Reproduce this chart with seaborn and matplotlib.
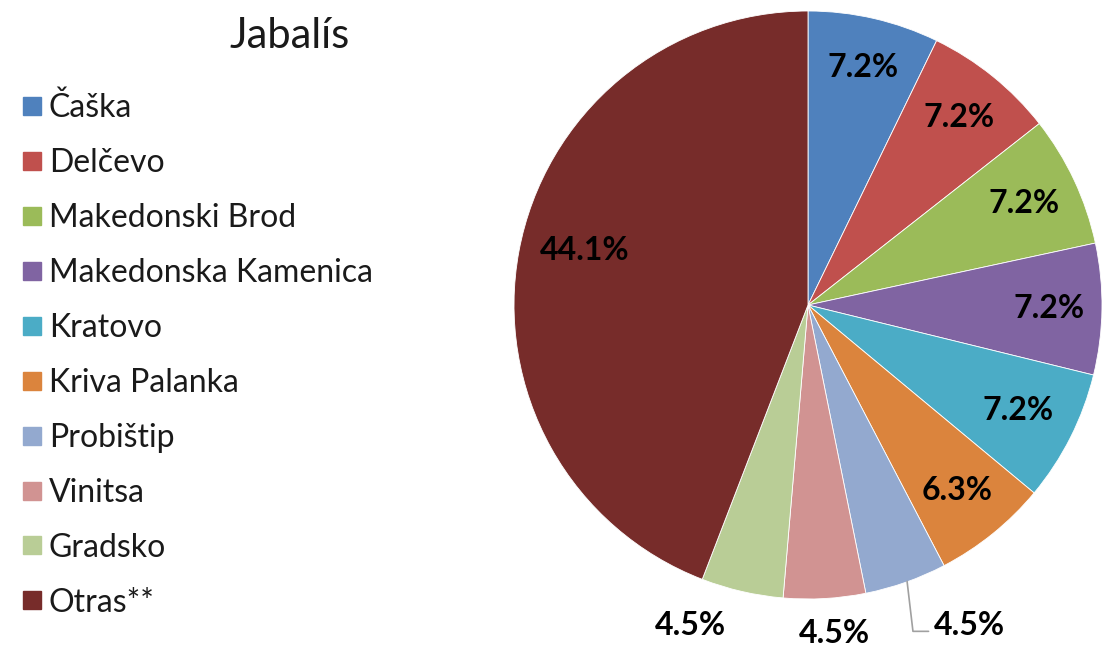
import numpy as np
import matplotlib
matplotlib.use("Agg")
import matplotlib.pyplot as plt
from matplotlib.lines import Line2D
import seaborn as sns

# data
regions = [
    "Čaška",
    "Delčevo",
    "Makedonski Brod",
    "Makedonska Kamenica",
    "Kratovo",
    "Kriva Palanka",
    "Probištip",
    "Vinitsa",
    "Gradsko",
    "Otras**",
]
shares = [7.2, 7.2, 7.2, 7.2, 7.2, 6.3, 4.5, 4.5, 4.5, 44.1]
colors = [
    "#4F81BD", "#C0504D", "#9BBB59", "#8064A2", "#4BACC6",
    "#DB843D", "#93A9CF", "#D19392", "#B9CD96", "#772C2A",
]

sns.set_theme(style="white")
plt.rcParams["font.family"] = ["Lato", "DejaVu Sans"]

W, H = 1120, 650
fig = plt.figure(figsize=(W / 100, H / 100), dpi=100)
fig.patch.set_facecolor("white")

# pie axes: centre (808, 305) px, radius 294 px
cx, cy, r = 808, 305, 294
ax = fig.add_axes([(cx - r) / W, (H - cy - r) / H, 2 * r / W, 2 * r / H])

wedges, _ = ax.pie(
    shares,
    colors=colors,
    startangle=90,
    counterclock=False,
    radius=1.0,
    wedgeprops=dict(linewidth=0.6, edgecolor="white"),
)
ax.set_xlim(-1, 1)
ax.set_ylim(-1, 1)
ax.axis("off")

# label placement: radial distance inside, fixed spots for small slices
inside_dist = [0.83, 0.82, 0.81, 0.82, 0.80, 0.81, None, None, None, None]
fixed_pos = {6: (0.55, -1.09), 7: (0.09, -1.118), 8: (-0.40, -1.09),
             9: (-0.76, 0.187)}

for i, (w, v) in enumerate(zip(wedges, shares)):
    label = f"{v:.1f}%"
    if i in fixed_pos:
        x, y = fixed_pos[i]
    else:
        ang = np.deg2rad((w.theta1 + w.theta2) / 2)
        x = inside_dist[i] * np.cos(ang)
        y = inside_dist[i] * np.sin(ang)
    ax.text(x, y, label, ha="center", va="center", fontsize=23,
            fontweight="bold", color="black", clip_on=False)

# leader line for Probištip
ax.plot([0.337, 0.357, 0.41], [-0.94, -1.11, -1.11], color="#A0A0A0",
        linewidth=1.2, clip_on=False)

fig.text(290 / W, 1 - 36 / H, "Jabalís", ha="center", va="center",
         fontsize=30, color="#1a1a1a")

handles = [Line2D([0], [0], marker="s", linestyle="none", markersize=13,
                  markerfacecolor=c, markeredgecolor=c) for c in colors]
fig.legend(
    handles, regions,
    loc="upper left",
    bbox_to_anchor=(12 / W, 1 - 80 / H),
    frameon=False,
    fontsize=23,
    labelcolor="#1a1a1a",
    handlelength=0.45,
    handletextpad=0.3,
    labelspacing=0.78,
    borderaxespad=0,
)

fig.savefig("out.png", dpi=100, facecolor="white")
